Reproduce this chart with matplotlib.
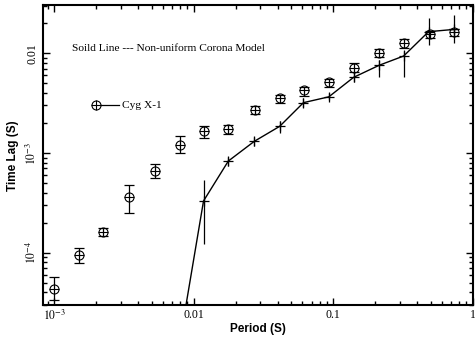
import numpy as np
import matplotlib
matplotlib.use("Agg")
import matplotlib.pyplot as plt
from matplotlib.ticker import LogLocator, NullFormatter, FixedLocator, FixedFormatter

# Cyg X-1 observed time lags (circles)
cyg_period = [0.001, 0.0015, 0.00222, 0.00343, 0.00524, 0.0080, 0.01175, 0.0176,
              0.0277, 0.0415, 0.0617, 0.093, 0.141, 0.213, 0.323, 0.497, 0.741]
cyg_lag = [4.28e-5, 9.4e-5, 1.6e-4, 3.63e-4, 6.6e-4, 1.21e-3, 1.65e-3, 1.74e-3,
           2.73e-3, 3.6e-3, 4.27e-3, 5.1e-3, 7.2e-3, 0.0100, 0.0126, 0.0155, 0.0163]
cyg_hi = [5.74e-5, 1.12e-4, 1.76e-4, 4.8e-4, 7.74e-4, 1.47e-3, 1.88e-3, 1.91e-3,
          2.95e-3, 3.85e-3, 4.61e-3, 5.56e-3, 8.05e-3, 0.0110, 0.0139, 0.0169, 0.0174]
cyg_lo = [3.35e-5, 7.9e-5, 1.46e-4, 2.47e-4, 5.6e-4, 1.0e-3, 1.40e-3, 1.55e-3,
          2.45e-3, 3.19e-3, 3.75e-3, 4.55e-3, 6.49e-3, 9.12e-3, 0.0112, 0.0142, 0.0149]

# non-uniform corona model (solid line)
model_period = [0.0080, 0.01175, 0.0177, 0.0272, 0.0413, 0.0612, 0.093, 0.14,
                0.214, 0.32, 0.483, 0.738]
model_lag = [1.35e-5, 3.3e-4, 8.3e-4, 1.31e-3, 1.85e-3, 3.2e-3, 3.66e-3, 5.74e-3,
             7.6e-3, 9.4e-3, 0.0165, 0.0174]
model_hi = [1.35e-5, 5.3e-4, 9.2e-4, 1.44e-3, 2.11e-3, 3.53e-3, 3.99e-3, 6.3e-3,
            8.56e-3, 0.0108, 0.0225, 0.0243]
model_lo = [1.35e-5, 1.21e-4, 7.35e-4, 1.17e-3, 1.59e-3, 2.87e-3, 3.40e-3, 5.19e-3,
            5.82e-3, 5.82e-3, 0.0121, 0.0126]

xticks = [1e-3, 0.01, 0.1, 1]
xlabels = [r"$10^{-3}$", "0.01", "0.1", "1"]
yticks = [1e-4, 1e-3, 0.01]
ylabels = [r"$10^{-4}$", r"$10^{-3}$", "0.01"]

plt.rcParams["mathtext.fontset"] = "stix"
serif = "Liberation Serif"
sans = "Liberation Sans"

fig = plt.figure(figsize=(4.75, 3.37), dpi=100)
ax = fig.add_axes([0.09, 0.095, 0.905, 0.889])
ax.set_xscale("log")
ax.set_yscale("log")
ax.set_xlim(8.26e-4, 1.0)
ax.set_ylim(2.98e-5, 0.0303)

cp = np.array(cyg_period)
cl = np.array(cyg_lag)
cerr = [cl - np.array(cyg_lo), np.array(cyg_hi) - cl]
ax.errorbar(cp, cl, yerr=cerr, fmt="none", ecolor="k", elinewidth=0.9,
            capsize=3.5, capthick=0.9, zorder=3)
ax.plot(cp, cl, "o", ms=6.5, mfc="none", mec="k", mew=0.8, zorder=4)
ax.plot(cp, cl, "_", ms=6.5, color="k", mew=0.8, zorder=4)

mp = np.array(model_period)
ml = np.array(model_lag)
merr = [ml - np.array(model_lo), np.array(model_hi) - ml]
ax.errorbar(mp, ml, yerr=merr, fmt="none", ecolor="k", elinewidth=0.9, zorder=3)
ax.plot(mp, ml, "-", color="k", lw=1.0, zorder=3)
ax.plot(mp, ml, "+", ms=7, color="k", mew=0.9, zorder=3)

# hand-made legend and caption
ax.text(0.069, 0.855, "Soild Line --- Non-uniform Corona Model",
        transform=ax.transAxes, family=serif, fontsize=8.2, va="center")
ax.plot([0.125], [0.666], "o", ms=6.5, mfc="none", mec="k", mew=0.8,
        transform=ax.transAxes, clip_on=False)
ax.plot([0.125], [0.666], "+", ms=6.5, color="k", mew=0.8,
        transform=ax.transAxes, clip_on=False)
ax.plot([0.133, 0.178], [0.666, 0.666], "-", color="k", lw=0.9,
        transform=ax.transAxes)
ax.text(0.184, 0.666, "Cyg X-1", transform=ax.transAxes, family=serif,
        fontsize=8.2, va="center")

ax.xaxis.set_major_locator(FixedLocator(xticks))
ax.xaxis.set_major_formatter(FixedFormatter(xlabels))
ax.yaxis.set_major_locator(FixedLocator(yticks))
ax.yaxis.set_major_formatter(FixedFormatter(ylabels))
ax.xaxis.set_minor_locator(LogLocator(base=10, subs=np.arange(2, 10)))
ax.yaxis.set_minor_locator(LogLocator(base=10, subs=np.arange(2, 10)))
ax.xaxis.set_minor_formatter(NullFormatter())
ax.yaxis.set_minor_formatter(NullFormatter())

ax.tick_params(which="both", direction="in", top=True, right=True, width=1.0)
ax.tick_params(which="major", length=5)
ax.tick_params(which="minor", length=3)
ax.tick_params(axis="x", labelsize=8.5, pad=3)
ax.tick_params(axis="y", labelsize=8.5, pad=3)
for lab in ax.get_xticklabels():
    lab.set_family(serif)
for lab in ax.get_yticklabels():
    lab.set_family(serif)
    lab.set_rotation(90)
    lab.set_va("center")
for sp in ax.spines.values():
    sp.set_linewidth(1.5)

ax.set_xlabel("Period (S)", family=sans, fontweight="bold", fontsize=8.5, labelpad=0)
ax.set_ylabel("Time Lag (S)", family=sans, fontweight="bold", fontsize=8.5, labelpad=4)

fig.savefig("out.png", dpi=100)
